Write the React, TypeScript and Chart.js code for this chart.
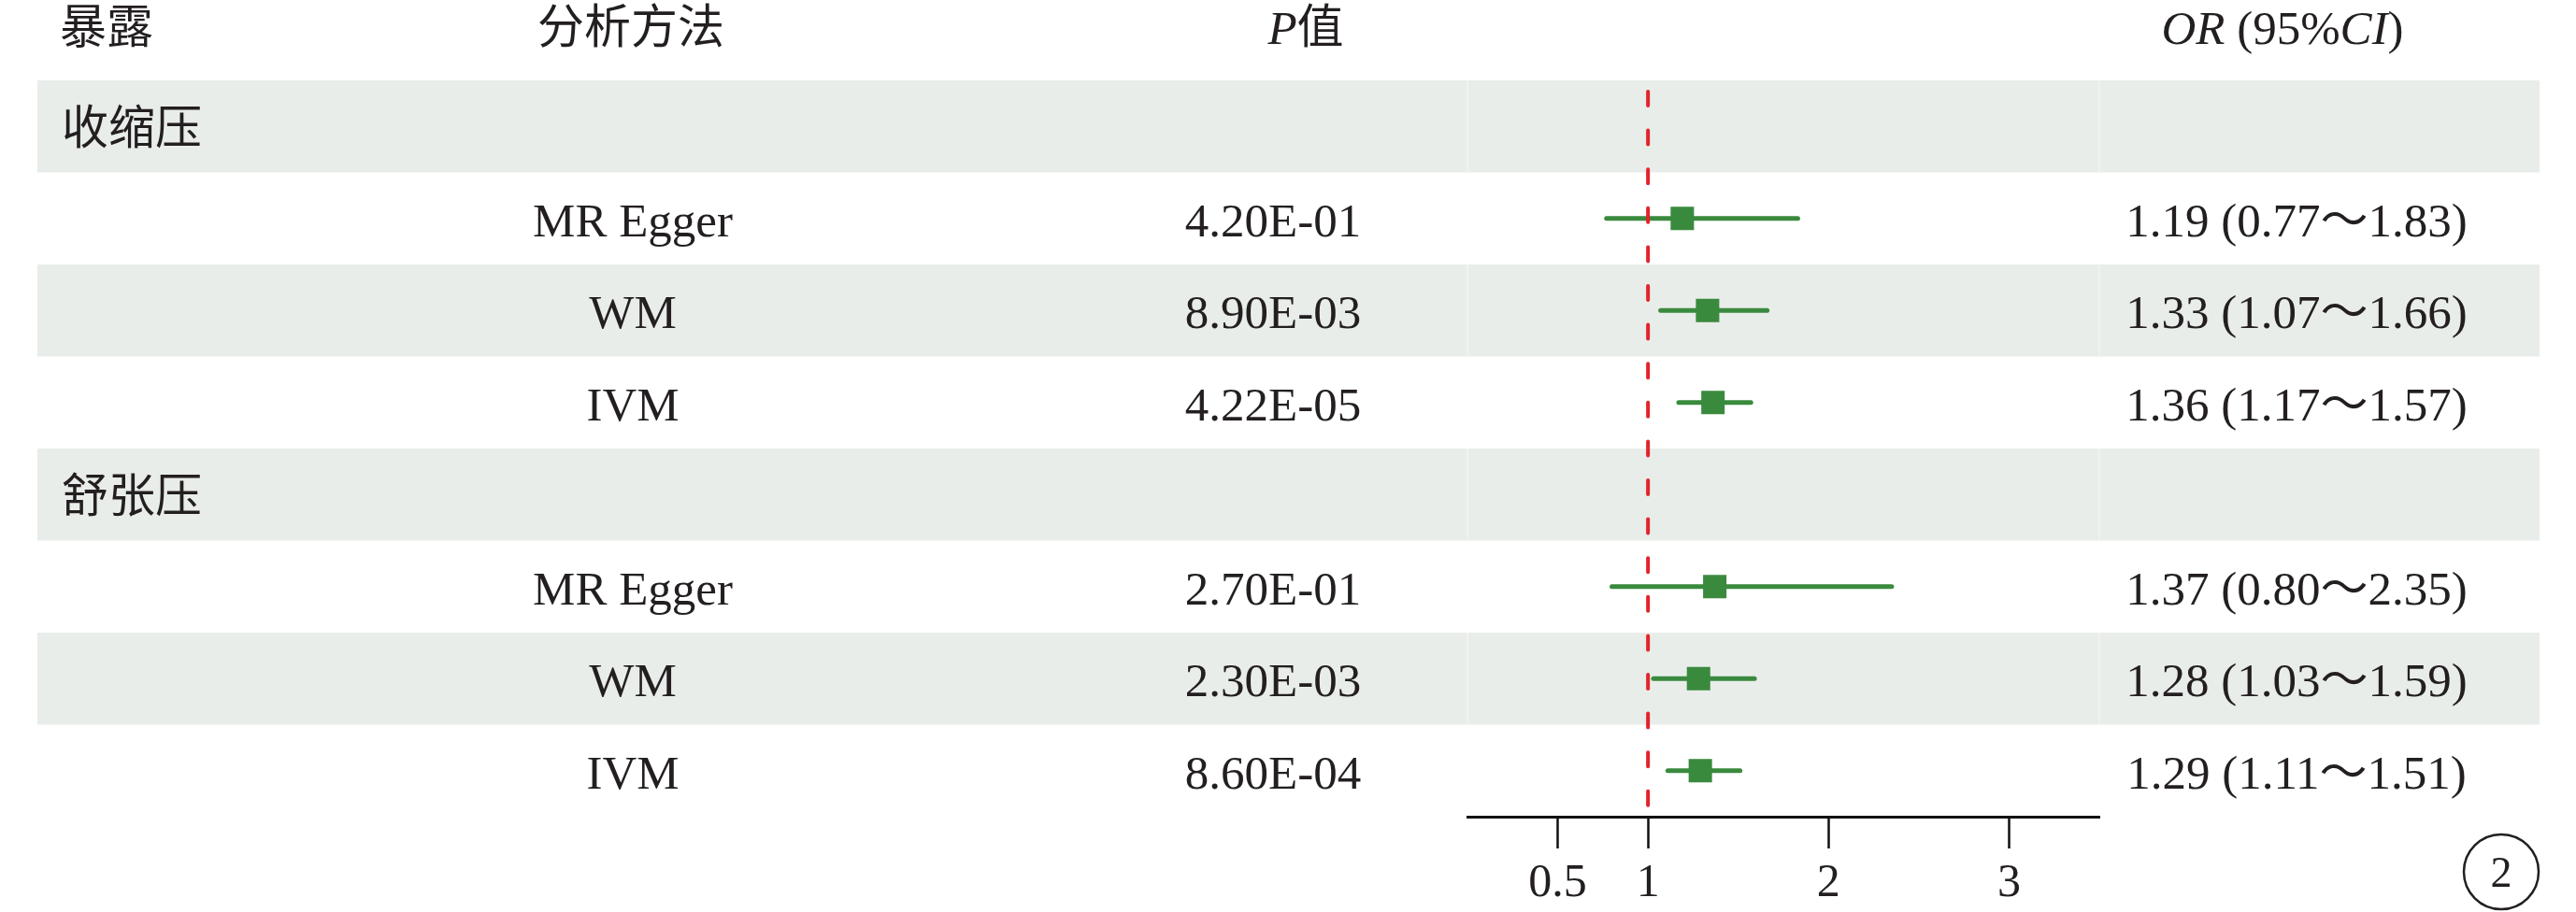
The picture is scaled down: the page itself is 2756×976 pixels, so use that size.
import React, { useEffect, useRef } from "react";
import { Chart, registerables } from "chart.js";

Chart.register(...registerables);

// ---------- data ----------
const exposures = ["收缩压", "舒张压"];
const methods = ["MR Egger", "WM", "IVM"];
const sbpOR = [1.19, 1.33, 1.36];
const sbpLower = [0.77, 1.07, 1.17];
const sbpUpper = [1.83, 1.66, 1.57];
const sbpP = ["4.20E-01", "8.90E-03", "4.22E-05"];
const dbpOR = [1.37, 1.28, 1.29];
const dbpLower = [0.8, 1.03, 1.11];
const dbpUpper = [2.35, 1.59, 1.51];
const dbpP = ["2.70E-01", "2.30E-03", "8.60E-04"];
const xTicks = [0.5, 1, 2, 3];
const nullValue = 1;
const panelLabel = "2";

// ---------- style ----------
const W = 2756;
const H = 976;
const GREEN = "#3a8a3e";
const RED = "#e3232b";
const BAND = "#e9edea";
const TEXT = "#231f20";
const LATIN = '"Liberation Serif", "Noto Sans CJK SC", serif';
const CJK = '"Noto Sans CJK SC", sans-serif';

type Row =
  | { kind: "group"; label: string; row: number }
  | { kind: "item"; method: string; or: number; lo: number; hi: number; p: string; row: number };

function buildRows(): Row[] {
  const rows: Row[] = [];
  const groups = [
    { or: sbpOR, lo: sbpLower, hi: sbpUpper, p: sbpP },
    { or: dbpOR, lo: dbpLower, hi: dbpUpper, p: dbpP },
  ];
  exposures.forEach((label, gi) => {
    rows.push({ kind: "group", label, row: rows.length });
    methods.forEach((m, mi) => {
      const g = groups[gi];
      rows.push({ kind: "item", method: m, or: g.or[mi], lo: g.lo[mi], hi: g.hi[mi], p: g.p[mi], row: rows.length });
    });
  });
  return rows;
}

const fmt = (v: number) => v.toFixed(2);

function drawSegments(
  ctx: CanvasRenderingContext2D,
  segs: { text: string; font: string; baseline: CanvasTextBaseline; dy: number }[],
  cx: number,
  y: number
) {
  let total = 0;
  const widths = segs.map((s) => {
    ctx.font = s.font;
    const w = ctx.measureText(s.text).width;
    total += w;
    return w;
  });
  let x = cx - total / 2;
  segs.forEach((s, i) => {
    ctx.font = s.font;
    ctx.textBaseline = s.baseline;
    ctx.textAlign = "left";
    ctx.fillText(s.text, x, y + s.dy);
    x += widths[i];
  });
}

export default function App() {
  const ref = useRef<HTMLCanvasElement | null>(null);

  useEffect(() => {
    document.body.style.margin = "0";
    const canvas = ref.current;
    if (!canvas) return;
    const rows = buildRows();
    const items = rows.filter((r) => r.kind === "item") as Extract<Row, { kind: "item" }>[];

    const datasets: any[] = [];
    datasets.push({
      label: "OR",
      data: items.map((r) => ({ x: r.or, y: r.row })),
      pointStyle: "rect",
      pointRadius: 17.7,
      pointHoverRadius: 17.7,
      backgroundColor: GREEN,
      borderColor: GREEN,
      borderWidth: 0,
      showLine: false,
      order: 0,
    });
    datasets.push({
      label: "null",
      data: [
        { x: nullValue, y: -0.378 },
        { x: nullValue, y: rows.length - 0.5 },
      ],
      showLine: true,
      borderColor: RED,
      borderWidth: 4,
      borderDash: [15, 26.6],
      borderCapStyle: "round",
      pointRadius: 0,
      order: 1,
    });
    items.forEach((r) => {
      datasets.push({
        label: "CI",
        data: [
          { x: r.lo, y: r.row },
          { x: r.hi, y: r.row },
        ],
        showLine: true,
        borderColor: GREEN,
        borderWidth: 5,
        borderCapStyle: "round",
        pointRadius: 0,
        order: 2,
      });
    });

    const bandPlugin = {
      id: "bands",
      beforeDraw(chart: any) {
        const ctx = chart.ctx as CanvasRenderingContext2D;
        const y = chart.scales.y;
        const area = chart.chartArea;
        ctx.save();
        rows.forEach((r) => {
          if (r.row % 2 !== 0) return;
          const top = y.getPixelForValue(r.row - 0.5);
          const bot = y.getPixelForValue(r.row + 0.5);
          ctx.fillStyle = BAND;
          ctx.fillRect(40, top, 2717 - 40, bot - top);
          ctx.strokeStyle = "#f2f4f2";
          ctx.lineWidth = 1.5;
          ctx.beginPath();
          ctx.moveTo(area.left, top);
          ctx.lineTo(area.left, bot);
          ctx.moveTo(area.right, top);
          ctx.lineTo(area.right, bot);
          ctx.stroke();
        });
        ctx.restore();
      },
    };

    const textPlugin = {
      id: "texts",
      afterDraw(chart: any) {
        const ctx = chart.ctx as CanvasRenderingContext2D;
        const y = chart.scales.y;
        ctx.save();
        ctx.fillStyle = TEXT;
        // header
        const hy = 27;
        ctx.font = `50px ${CJK}`;
        ctx.textBaseline = "middle";
        ctx.textAlign = "left";
        ctx.fillText("暴露", 64, hy);
        ctx.textAlign = "center";
        ctx.fillText("分析方法", 675, hy);
        drawSegments(
          ctx,
          [
            { text: "P", font: `italic 51px ${LATIN}`, baseline: "alphabetic", dy: 20 },
            { text: "值", font: `50px ${CJK}`, baseline: "middle", dy: 0 },
          ],
          1397,
          hy
        );
        drawSegments(
          ctx,
          [
            { text: "OR", font: `italic 51px ${LATIN}`, baseline: "alphabetic", dy: 20 },
            { text: " (95%", font: `51px ${LATIN}`, baseline: "alphabetic", dy: 20 },
            { text: "CI", font: `italic 51px ${LATIN}`, baseline: "alphabetic", dy: 20 },
            { text: ")", font: `51px ${LATIN}`, baseline: "alphabetic", dy: 20 },
          ],
          2442,
          hy
        );
        // rows
        rows.forEach((r) => {
          const cy = y.getPixelForValue(r.row);
          if (r.kind === "group") {
            ctx.font = `50px ${CJK}`;
            ctx.textBaseline = "middle";
            ctx.textAlign = "left";
            ctx.fillText(r.label, 66, cy);
          } else {
            ctx.font = `51px ${LATIN}`;
            ctx.textBaseline = "alphabetic";
            ctx.textAlign = "center";
            ctx.fillText(r.method, 677, cy + 19);
            ctx.fillText(r.p, 1362, cy + 19);
            ctx.fillText(`${fmt(r.or)} (${fmt(r.lo)}～${fmt(r.hi)})`, 2457, cy + 19);
          }
        });
        // panel label
        ctx.strokeStyle = TEXT;
        ctx.lineWidth = 2.5;
        ctx.beginPath();
        ctx.arc(2676, 933, 40, 0, Math.PI * 2);
        ctx.stroke();
        ctx.font = `46px ${LATIN}`;
        ctx.textAlign = "center";
        ctx.textBaseline = "alphabetic";
        ctx.fillText(panelLabel, 2676, 949);
        ctx.restore();
      },
    };

    const chart = new Chart(canvas, {
      type: "scatter",
      data: { datasets },
      options: {
        responsive: false,
        animation: false,
        devicePixelRatio: 1,
        layout: { padding: { left: 1570, right: W - 2246, top: 86, bottom: 0 } },
        plugins: { legend: { display: false }, tooltip: { enabled: false } },
        scales: {
          x: {
            type: "linear",
            min: 0,
            max: 3.5,
            afterBuildTicks: (scale: any) => {
              scale.ticks = xTicks.map((v) => ({ value: v }));
            },
            afterFit: (scale: any) => {
              scale.height = 102;
            },
            border: { display: true, color: "#111", width: 3 },
            grid: {
              display: true,
              drawOnChartArea: false,
              drawTicks: true,
              tickLength: 34,
              tickWidth: 2.5,
              tickColor: "#111",
              color: "#111",
            },
            ticks: {
              color: TEXT,
              padding: 8,
              font: { family: LATIN, size: 50 },
            },
          },
          y: {
            type: "linear",
            display: false,
            min: -0.5,
            max: rows.length - 0.5,
            reverse: true,
          },
        },
      } as any,
      plugins: [bandPlugin, textPlugin],
    });
    return () => chart.destroy();
  }, []);

  return (
    <canvas
      ref={ref}
      width={W}
      height={H}
      style={{ display: "block", width: W + "px", height: H + "px" }}
    />
  );
}
